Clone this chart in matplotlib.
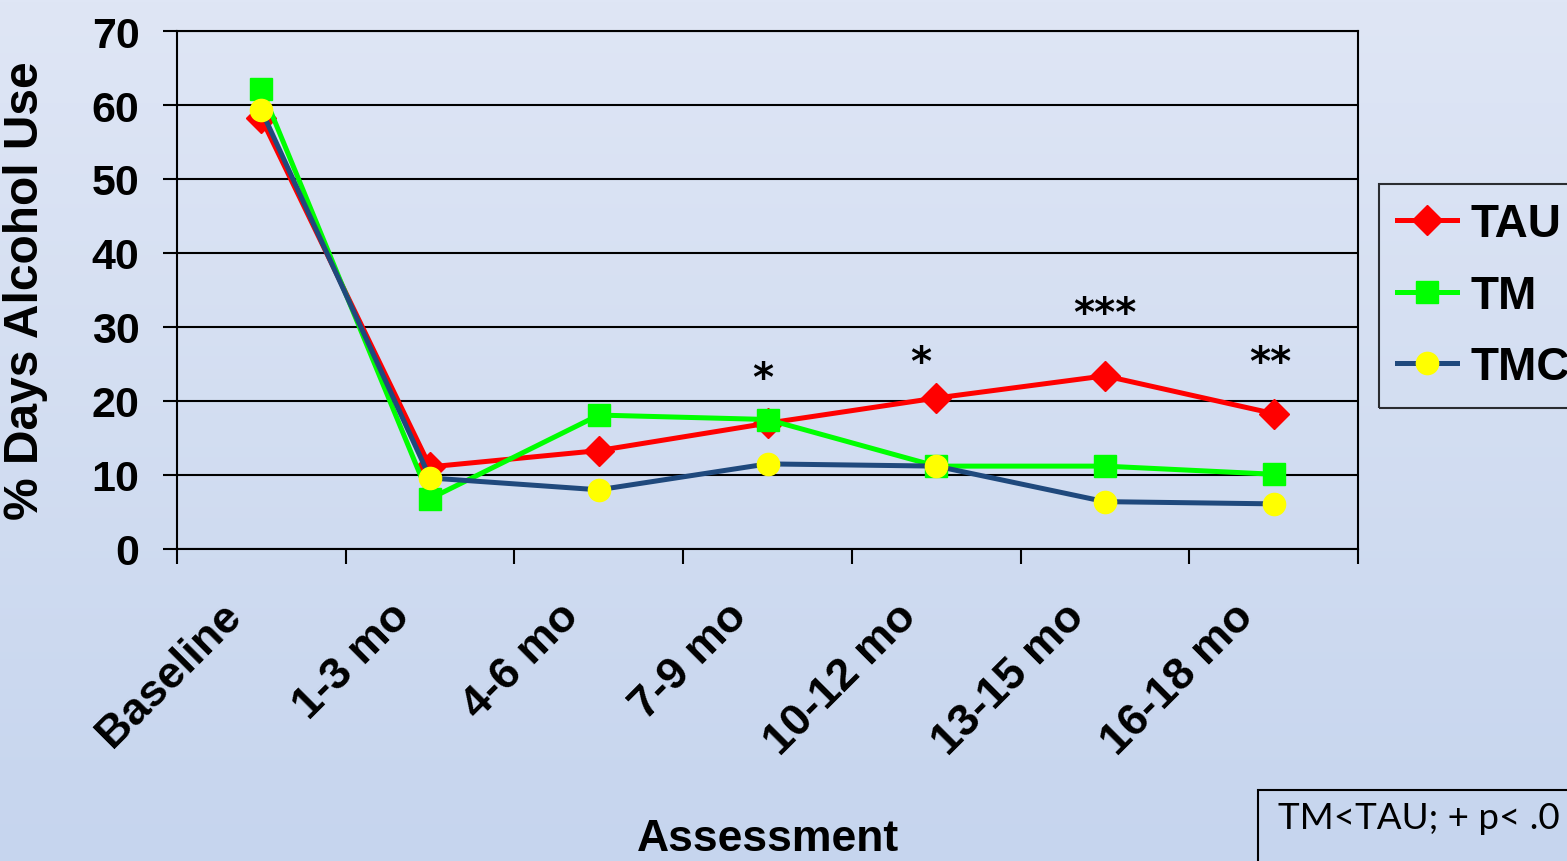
import matplotlib

matplotlib.use("Agg")

import matplotlib.pyplot as plt
import numpy as np
from matplotlib.colors import LinearSegmentedColormap
from matplotlib.patches import Rectangle
from matplotlib.transforms import ScaledTranslation

plt.rcParams["font.family"] = ["Liberation Sans", "DejaVu Sans"]

categories = ["Baseline", "1-3 mo", "4-6 mo", "7-9 mo", "10-12 mo", "13-15 mo", "16-18 mo"]
tau = [58.2, 11.1, 13.3, 17.0, 20.4, 23.4, 18.3]
tm = [62.2, 6.8, 18.1, 17.5, 11.2, 11.2, 10.1]
tmc = [59.3, 9.6, 8.0, 11.5, 11.2, 6.4, 6.1]

# significance markers (category position, height, text)
sig_x = [2.97, 3.91, 5.0, 5.98]
sig_y = [23.0, 25.2, 31.8, 25.2]
sig_text = ["*", "*", "***", "**"]

note_text = "TM<TAU; + p< .0"

fig = plt.figure(figsize=(15.67, 8.62), dpi=100)

# background gradient over the whole slide
bg = fig.add_axes([0, 0, 1, 1], zorder=-10)
grad = np.linspace(0, 1, 256).reshape(-1, 1)
cmap = LinearSegmentedColormap.from_list("bg", ["#dfe6f5", "#c6d5ee"])
bg.imshow(grad, aspect="auto", cmap=cmap, extent=[0, 1, 0, 1], origin="upper")
bg.set_axis_off()

ax = fig.add_axes([177 / 1567, 1 - 550 / 862, (1358 - 177) / 1567, (550 - 32) / 862])
ax.set_facecolor("none")

x = np.arange(len(categories))
lw = 3.6
ax.plot(x, tau, color="#ff0000", lw=lw, marker="D", ms=15, mfc="#ff0000", mec="#ff0000",
        label="TAU", zorder=3)
ax.plot(x, tm, color="#00ff00", lw=lw, marker="s", ms=16, mfc="#00ff00", mec="#00ff00",
        label="TM", zorder=4)
ax.plot(x, tmc, color="#1f497d", lw=lw, marker="o", ms=16, mfc="#ffff00", mec="#ffff00",
        label="TMC", zorder=5)

for sx, sy, st in zip(sig_x, sig_y, sig_text):
    ax.text(sx, sy, st, ha="center", va="center", fontsize=29, family="DejaVu Sans",
            fontweight="bold", color="black")

ax.set_xlim(-0.5, len(categories) - 0.5)
ax.set_ylim(0, 70)
ax.set_yticks(np.arange(0, 71, 10))
ax.grid(axis="y", color="black", lw=1.5)
ax.set_axisbelow(True)

for side in ["left", "right", "bottom", "top"]:
    ax.spines[side].set_color("black")
    ax.spines[side].set_linewidth(1.5)

ax.tick_params(axis="y", length=10, width=1.5, pad=17, labelsize=31)
for lab in ax.get_yticklabels():
    lab.set_fontweight("bold")

ax.set_xticks(x)
ax.set_xticklabels(categories, rotation=45, ha="right", fontsize=32.5, fontweight="bold")
ax.tick_params(axis="x", which="major", length=0, pad=33)
ax.set_xticks(np.arange(-0.5, len(categories), 1.0), minor=True)
ax.tick_params(axis="x", which="minor", length=11, width=1.5)
shift = ScaledTranslation(-12 / 100, 0, fig.dpi_scale_trans)
for lab in ax.get_xticklabels():
    lab.set_transform(lab.get_transform() + shift)

ax.set_xlabel("Assessment", fontsize=32, fontweight="bold", va="baseline")
ax.xaxis.set_label_coords(0.5, -0.581)
ax.set_ylabel("% Days Alcohol Use", fontsize=34.5, fontweight="bold", va="center")
ax.yaxis.set_label_coords(-0.128, 0.5)

leg = fig.legend(loc="upper left", bbox_to_anchor=(1379 / 1567, 1 - 185 / 862),
                 prop={"size": 33, "weight": "bold"}, frameon=True, fancybox=False,
                 edgecolor="black", facecolor="none", framealpha=None,
                 handlelength=1.3, handletextpad=0.3, labelspacing=0.6,
                 borderpad=0.4, borderaxespad=0, markerscale=1.0)
leg.get_frame().set_linewidth(1.5)

# note box in the bottom-right corner, running off the slide edge
fig.patches.append(Rectangle((1258 / 1567, -0.05), 0.3, 0.05 + (862 - 791) / 862,
                             transform=fig.transFigure, facecolor="none",
                             edgecolor="black", lw=1.5))
fig.text(1278 / 1567, 1 - 829 / 862, note_text, fontsize=26.5, family="Lato",
         ha="left", va="baseline", color="black")

fig.savefig("out.png", dpi=100)
